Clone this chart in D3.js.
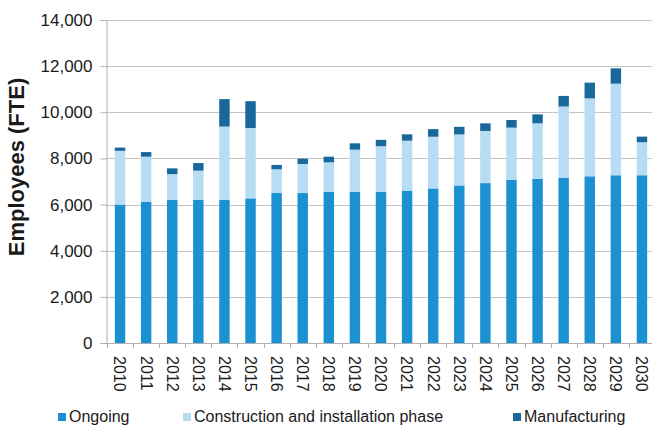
<!DOCTYPE html>
<html lang="en">
<head>
    <meta charset="UTF-8">
    <title>Employees (FTE)</title>
    <script src="https://d3js.org/d3.v7.min.js"></script>
    <style>
        body { margin: 0; background: #fff; }
        text { font-family: "Liberation Sans", Arial, sans-serif; fill: #1a1a1a; }
    </style>
</head>
<body>

    <script>
        // chart values
        var years = ["2010", "2011", "2012", "2013", "2014", "2015", "2016", "2017", "2018", "2019", "2020",
                     "2021", "2022", "2023", "2024", "2025", "2026", "2027", "2028", "2029", "2030"];
        var ongoing = [6000, 6125, 6210, 6210, 6210, 6270, 6500, 6500, 6550, 6550, 6550,
                       6600, 6700, 6830, 6930, 7080, 7120, 7170, 7225, 7270, 7270];
        var construction = [2330, 1950, 1110, 1260, 3170, 3050, 1030, 1260, 1280, 1830, 1980,
                            2170, 2240, 2210, 2260, 2255, 2400, 3080, 3380, 3970, 1430];
        var manufacturing = [140, 200, 250, 330, 1190, 1160, 190, 230, 245, 275, 275,
                             275, 330, 330, 330, 330, 390, 460, 680, 665, 245];
        var seriesNames = ["Ongoing", "Construction and installation phase", "Manufacturing"];
        var yTicks = [0, 2000, 4000, 6000, 8000, 10000, 12000, 14000];

        var colors = ["#1b91d2", "#b6ddf4", "#18689c"];

        var W = 652, H = 426;
        var plotLeft = 106, plotTop = 20, plotBottom = 343;

        var svg = d3.select("body").append("svg")
            .attr("width", W)
            .attr("height", H);

        // table for the stack
        var table = years.map(function(yr, i) {
            return { year: yr, "Ongoing": ongoing[i],
                     "Construction and installation phase": construction[i],
                     "Manufacturing": manufacturing[i] };
        });
        var stacked = d3.stack().keys(seriesNames)(table);

        var x = d3.scaleBand()
            .domain(years)
            .range([107, 655])
            .paddingInner(0.6)
            .paddingOuter(0.3);

        var y = d3.scaleLinear()
            .domain([0, 14000])
            .range([plotBottom, plotTop]);

        // gridlines
        svg.append("g")
            .selectAll("line")
            .data(yTicks.slice(1))
            .enter()
            .append("line")
            .attr("x1", plotLeft)
            .attr("x2", W)
            .attr("y1", d => Math.round(y(d)) + 0.5)
            .attr("y2", d => Math.round(y(d)) + 0.5)
            .attr("stroke", "#c4c4c4");

        // y axis
        var yAxis = svg.append("g")
            .attr("transform", "translate(" + (plotLeft + 0.5) + ",0)")
            .call(d3.axisLeft(y).tickValues(yTicks).tickSize(6).tickPadding(8)
                .tickFormat(d3.format(",")));
        yAxis.select(".domain").attr("stroke", "#b0b0b0");
        yAxis.selectAll(".tick line").attr("stroke", "#b0b0b0");
        yAxis.selectAll(".tick text")
            .style("font-size", "17px")
            .attr("fill", "#1a1a1a");

        // bars
        svg.append("g")
            .selectAll("g")
            .data(stacked)
            .enter()
            .append("g")
            .attr("fill", (d, i) => colors[i])
            .selectAll("rect")
            .data(d => d)
            .enter()
            .append("rect")
            .attr("x", d => x(d.data.year))
            .attr("width", x.bandwidth())
            .attr("y", d => y(d[1]))
            .attr("height", d => y(d[0]) - y(d[1]));

        // x axis line and ticks between categories
        svg.append("line")
            .attr("x1", plotLeft).attr("x2", W)
            .attr("y1", plotBottom + 0.5).attr("y2", plotBottom + 0.5)
            .attr("stroke", "#b0b0b0");
        svg.append("g")
            .selectAll("line")
            .data(years)
            .enter()
            .append("line")
            .attr("x1", d => Math.round(x(d) - x.bandwidth() * 0.75) + 0.5)
            .attr("x2", d => Math.round(x(d) - x.bandwidth() * 0.75) + 0.5)
            .attr("y1", plotBottom)
            .attr("y2", plotBottom + 5)
            .attr("stroke", "#b0b0b0");

        // year labels, turned to read top to bottom
        svg.append("g")
            .selectAll("text")
            .data(years)
            .enter()
            .append("text")
            .attr("transform", d => "translate(" + (x(d) + x.bandwidth() / 2) + "," + 356 + ") rotate(90)")
            .attr("dy", "0.35em")
            .style("font-size", "16px")
            .text(d => d);

        // y axis title
        svg.append("text")
            .attr("transform", "translate(24,167) rotate(-90)")
            .attr("text-anchor", "middle")
            .style("font-size", "22px")
            .style("font-weight", "bold")
            .text("Employees (FTE)");

        // legend
        var legendX = [58, 183, 513];
        var legend = svg.append("g");
        seriesNames.forEach(function(name, i) {
            legend.append("rect")
                .attr("x", legendX[i]).attr("y", 413)
                .attr("width", 8).attr("height", 8)
                .attr("fill", colors[i]);
            legend.append("text")
                .attr("x", legendX[i] + 11).attr("y", 422)
                .style("font-size", "16px")
                .text(name);
        });
    </script>

</body>
</html>
